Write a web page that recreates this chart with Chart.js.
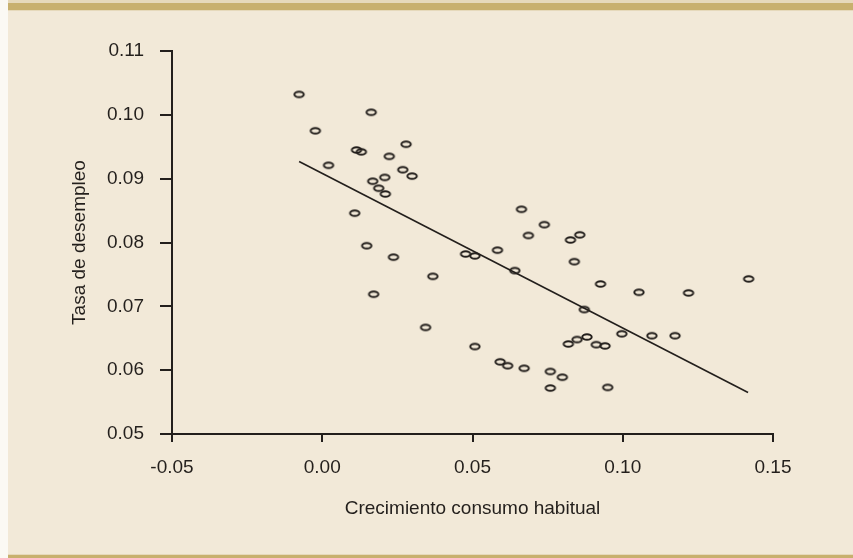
<!DOCTYPE html>
<html>
<head>
<meta charset="utf-8">
<script src="https://cdn.jsdelivr.net/npm/chart.js@4/dist/chart.umd.min.js"></script>
<style>
  html, body { margin: 0; padding: 0; background: #fbf9f4; }
  canvas { display: block; }
</style>
</head>
<body>
<canvas id="grafico" width="853" height="558"></canvas>
<script>
// Crecimiento consumo habitual (x) vs Tasa de desempleo (y)
const consumo = [
    -0.0077, 0.0163, -0.0023, 0.0114, 0.0130, 0.0279, 0.0223, 0.0021, 0.0268, 0.0299,
    0.0208, 0.0168, 0.0188, 0.0210, 0.0108, 0.0663, 0.0739, 0.0686, 0.0826, 0.0857,
    0.0583, 0.0477, 0.0508, 0.0839, 0.0641, 0.0926, 0.1054, 0.1219, 0.1419, 0.0872,
    0.0997, 0.1097, 0.1174, 0.0508, 0.0819, 0.0848, 0.0881, 0.0912, 0.0941, 0.0592,
    0.0617, 0.0672, 0.0759, 0.0799, 0.0759, 0.0950, 0.0148, 0.0237, 0.0368, 0.0171,
    0.0344
];
const desempleo = [
    0.1032, 0.1004, 0.0975, 0.0945, 0.0942, 0.0954, 0.0935, 0.0921, 0.0914, 0.0904,
    0.0902, 0.0896, 0.0885, 0.0876, 0.0846, 0.0852, 0.0828, 0.0811, 0.0804, 0.0812,
    0.0788, 0.0782, 0.0779, 0.0770, 0.0756, 0.0735, 0.0722, 0.0721, 0.0743, 0.0695,
    0.0657, 0.0654, 0.0654, 0.0637, 0.0641, 0.0648, 0.0652, 0.0640, 0.0638, 0.0613,
    0.0607, 0.0603, 0.0598, 0.0589, 0.0572, 0.0573, 0.0795, 0.0777, 0.0747, 0.0719,
    0.0667
];

// Recta de ajuste (extremos)
const ajusteX = [-0.0077, 0.1417];
const ajusteY = [0.0927, 0.0565];

const ticksX = [-0.05, 0.00, 0.05, 0.10, 0.15];
const ticksY = [0.05, 0.06, 0.07, 0.08, 0.09, 0.10, 0.11];

const TINTA = '#231f1c';

// Marcador elíptico (más ancho que alto)
function marcador() {
    const c = document.createElement('canvas');
    c.width = 14;
    c.height = 10;
    const g = c.getContext('2d');
    g.strokeStyle = TINTA;
    g.lineWidth = 2;
    g.beginPath();
    g.ellipse(7, 5, 4.7, 2.8, 0, 0, Math.PI * 2);
    g.stroke();
    return c;
}

// Fondo beige con las franjas superior e inferior
const fondo = {
    id: 'fondo',
    beforeDraw(chart) {
        const ctx = chart.ctx;
        const w = chart.width, h = chart.height;
        ctx.save();
        ctx.fillStyle = '#fbf9f4';
        ctx.fillRect(0, 0, w, h);
        ctx.fillStyle = '#f2e9d8';
        ctx.fillRect(8, 0, w - 8, h);
        ctx.fillStyle = '#e6d9bb';
        ctx.fillRect(8, 0, w - 8, 3);
        ctx.fillRect(8, 10, w - 8, 1);
        ctx.fillRect(8, 554, w - 8, 1);
        ctx.fillStyle = '#c8b06e';
        ctx.fillRect(8, 3, w - 8, 7);
        ctx.fillRect(8, 555, w - 8, 3);
        ctx.restore();
    }
};

Chart.defaults.font.family = "'Liberation Sans', Arial, sans-serif";
Chart.defaults.font.size = 19;
Chart.defaults.color = TINTA;

new Chart(document.getElementById('grafico'), {
    type: 'scatter',
    data: {
        datasets: [
            {
                label: 'Observaciones',
                data: consumo.map((x, i) => ({ x: x, y: desempleo[i] })),
                pointStyle: marcador(),
                pointRadius: 5,
            },
            {
                label: 'Ajuste',
                type: 'line',
                data: ajusteX.map((x, i) => ({ x: x, y: ajusteY[i] })),
                borderColor: TINTA,
                borderWidth: 1.6,
                pointRadius: 0,
                fill: false,
            },
        ],
    },
    options: {
        responsive: false,
        animation: false,
        layout: { padding: { left: 0, right: 80, top: 51, bottom: 0 } },
        plugins: {
            legend: { display: false },
            tooltip: { enabled: false },
        },
        scales: {
            x: {
                type: 'linear',
                min: -0.05,
                max: 0.15,
                afterBuildTicks: (s) => { s.ticks = ticksX.map(v => ({ value: v })); },
                afterFit: (s) => { s.height = 124; },
                border: { display: true, color: TINTA, width: 2 },
                grid: { drawOnChartArea: false, drawTicks: true, tickLength: 8, color: TINTA, lineWidth: 2 },
                ticks: { padding: 14, callback: (v) => v.toFixed(2) },
                title: {
                    display: true,
                    text: 'Crecimiento consumo habitual',
                    padding: { top: 0, bottom: 38 },
                },
            },
            y: {
                type: 'linear',
                min: 0.05,
                max: 0.11,
                afterBuildTicks: (s) => { s.ticks = ticksY.map(v => ({ value: v })); },
                afterFit: (s) => { s.width = 172; },
                border: { display: true, color: TINTA, width: 2 },
                grid: { drawOnChartArea: false, drawTicks: true, tickLength: 12, color: TINTA, lineWidth: 2 },
                ticks: { padding: 16, callback: (v) => v.toFixed(2) },
                title: {
                    display: true,
                    text: 'Tasa de desempleo',
                    padding: { top: 68, bottom: 0 },
                },
            },
        },
    },
    plugins: [fondo],
});
</script>
</body>
</html>
